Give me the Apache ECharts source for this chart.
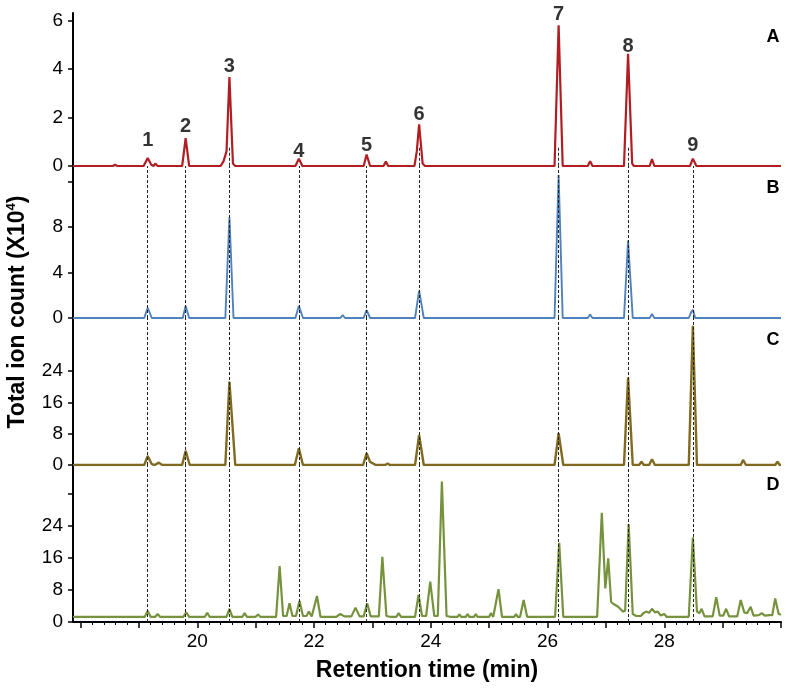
<!DOCTYPE html>
<html><head><meta charset="utf-8">
<script src="https://cdn.jsdelivr.net/npm/echarts@6/dist/echarts.min.js"></script>
<style>html,body{margin:0;padding:0;background:#fff}#c{width:789px;height:690px}</style>
</head><body><div id="c"></div>
<script>
// ---- data (retention time in min, total ion count x10^4) ----
const xMin = 17.87, xMax = 30;
const peakNames = ['1','2','3','4','5','6','7','8','9'];
const peakTimes = [19.15, 19.80, 20.55, 21.74, 22.90, 23.80, 26.19, 27.38, 28.49];
const peakLabelLevelA = [0.62, 1.2, 3.7, 0.2, 0.42, 1.72, 5.82, 4.52, 0.42];
const dashTopA = [null, null, 0.75, null, null, 0.75, 0.75, 0.75, null];

const traceA = [[17.87,0],[18.55,0],[18.59,0.05],[18.63,0],
[19.08,0],[19.15,0.33],[19.21,0.05],[19.25,0],[19.28,0.1],[19.32,0],
[19.74,0],[19.80,1.15],[19.86,0],
[20.40,0],[20.45,0.2],[20.50,0.6],[20.55,3.66],[20.61,0.1],[20.65,0],
[21.68,0],[21.74,0.3],[21.80,0],
[22.05,0],[22.08,0.05],[22.11,0],
[22.85,0],[22.90,0.47],[22.96,0],
[23.19,0],[23.23,0.18],[23.27,0],
[23.72,0],[23.76,0.6],[23.80,1.72],[23.86,0.1],[23.90,0],
[24.09,0],[24.12,0.05],[24.15,0],
[26.12,0],[26.19,5.79],[26.26,0],
[26.69,0],[26.73,0.2],[26.77,0],
[27.31,0],[27.38,4.62],[27.45,0.1],[27.48,0],
[27.75,0],[27.79,0.28],[27.83,0],
[28.44,0],[28.49,0.3],[28.55,0],
[28.87,0],[28.90,0.05],[28.93,0],
[29.58,0],[29.61,0.03],[29.64,0],
[30.0,0]];

const traceB = [[17.87,0],
[19.09,0],[19.15,0.9],[19.22,0],
[19.75,0],[19.80,1.05],[19.86,0],
[20.48,0],[20.55,8.85],[20.62,0],
[21.68,0],[21.74,1.08],[21.81,0],
[22.45,0],[22.49,0.25],[22.53,0],
[22.85,0],[22.90,0.7],[22.96,0],
[23.21,0],[23.24,0.1],[23.27,0],
[23.73,0],[23.80,2.4],[23.88,0],
[25.19,0],[25.22,0.05],[25.25,0],
[26.12,0],[26.19,12.57],[26.26,0],
[26.69,0],[26.73,0.3],[26.77,0],
[27.31,0],[27.38,6.8],[27.46,0],
[27.75,0],[27.79,0.35],[27.83,0],
[28.42,0],[28.46,0.5],[28.49,0.73],[28.53,0],
[30.0,0]];

const traceC = [[17.87,0],
[19.09,0],[19.15,2.3],[19.22,0.2],[19.27,0],[19.34,0.6],[19.40,0],
[19.74,0],[19.80,3.6],[19.87,0],
[20.48,0],[20.55,21.3],[20.58,21],[20.65,0],
[21.67,0],[21.74,4.25],[21.81,0],
[22.48,0],[22.51,0.15],[22.54,0],
[22.84,0],[22.90,3.0],[22.96,0.8],[23.02,0.3],[23.06,0],
[23.22,0],[23.26,0.4],[23.30,0],
[23.73,0],[23.80,7.65],[23.88,0],
[24.74,0],[24.77,0.2],[24.80,0],
[26.12,0],[26.19,8.1],[26.27,0],
[27.31,0],[27.38,22.3],[27.46,0],
[27.57,0],[27.61,0.85],[27.65,0],
[27.74,0],[27.79,1.45],[27.84,0],
[28.42,0],[28.49,35.5],[28.56,0],
[29.01,0],[29.04,0.2],[29.07,0],
[29.31,0],[29.35,1.3],[29.40,0],
[29.90,0],[29.94,0.85],[29.98,0],
[30.0,0]];

const traceD = [[17.87,1.3],
[19.10,1.3],[19.15,2.75],[19.20,1.3],
[19.28,1.3],[19.32,2.0],[19.36,1.3],
[19.76,1.3],[19.81,2.4],[19.86,1.3],
[20.13,1.3],[20.17,2.3],[20.21,1.3],
[20.50,1.3],[20.55,3.25],[20.60,1.3],
[20.77,1.3],[20.81,2.2],[20.85,1.3],
[21.00,1.3],[21.04,1.9],[21.08,1.3],
[21.35,1.3],[21.41,14.0],[21.47,1.5],[21.53,1.5],[21.58,4.7],[21.63,1.5],[21.69,1.5],[21.75,5.25],[21.81,1.5],[21.87,1.5],[21.91,2.6],[21.96,1.4],[21.99,1.4],[22.05,6.5],[22.11,1.3],
[22.38,1.3],[22.45,2.0],[22.52,1.4],[22.64,1.4],[22.71,3.6],[22.78,1.4],[22.85,1.4],[22.91,4.7],[22.97,1.4],[23.11,1.4],[23.17,16.3],[23.24,1.5],[23.30,1.3],
[23.41,1.3],[23.45,2.2],[23.49,1.3],
[23.73,1.3],[23.79,6.75],[23.85,1.5],[23.92,1.5],[23.99,10.1],[24.06,1.5],[24.12,1.5],[24.19,35.1],[24.27,1.5],[24.33,1.3],
[24.46,1.3],[24.49,1.9],[24.52,1.3],[24.60,1.3],[24.63,2.0],[24.66,1.3],[24.74,1.3],[24.77,2.0],[24.80,1.3],
[25.00,1.3],[25.03,2.2],[25.07,1.3],[25.10,1.3],[25.16,8.2],[25.22,1.3],
[25.43,1.3],[25.46,2.0],[25.49,1.3],[25.53,1.3],[25.59,5.5],[25.65,1.3],
[26.13,1.3],[26.20,19.8],[26.27,1.3],
[26.85,1.3],[26.93,27.3],[26.99,8.4],[27.04,15.9],[27.09,5.0],[27.13,4.5],[27.21,3.8],[27.29,2.6],[27.33,2.8],[27.39,24.5],[27.46,2.0],
[27.52,1.5],[27.60,1.5],[27.64,2.2],[27.69,2.6],[27.74,2.3],[27.79,3.3],[27.84,2.4],[27.89,2.6],[27.94,1.6],[28.00,2.0],[28.04,1.3],
[28.42,1.3],[28.49,21.2],[28.56,2.6],[28.60,2.2],[28.64,3.3],[28.69,1.4],
[28.83,1.4],[28.89,6.2],[28.95,1.6],[29.01,1.6],[29.06,3.3],[29.11,1.4],
[29.25,1.4],[29.31,5.5],[29.37,2.4],[29.42,2.2],[29.48,3.8],[29.53,1.6],[29.62,1.7],[29.67,2.2],[29.72,1.6],[29.80,1.7],[29.85,1.7],[29.90,5.9],[29.96,2.0],[30.0,1.8]];

const xMajorTicks = [18,19,20,21,22,23,24,25,26,27,28,29,30];
const xTickLabels = [20,22,24,26,28];
const xMinorTicks = [18.2,18.4,18.6,18.8,19.2,19.4,19.6,19.8,20.2,20.4,20.6,20.8,21.2,21.4,21.6,21.8,22.2,22.4,22.6,22.8,23.2,23.4,23.6,23.8,24.2,24.4,24.6,24.8,25.2,25.4,25.6,25.8,26.2,26.4,26.6,26.8,27.2,27.4,27.6,27.8,28.2,28.4,28.6,28.8,29.2,29.4,29.6,29.8];
const yTicksA = [0,2,4,6],   yLabelsA = [0,2,4,6];
const yTicksB = [0,4,8,12],  yLabelsB = [0,4,8];
const yTicksC = [0,8,16,24], yLabelsC = [0,8,16,24];
const yTicksD = [0,8,16,24,32], yLabelsD = [0,8,16,24];
const panelNames = ['A','B','C','D'];

// ---- chart ----
const FONT = '"Liberation Sans", Arial, sans-serif';
const colors = ['#b01e23', '#4f81bd', '#7f6a20', '#76923c'];
const grids = [
  {left:73, width:708, top:13,  height:153},
  {left:73, width:708, top:166, height:152},
  {left:73, width:708, top:318, height:147},
  {left:73, width:708, top:465, height:157}
];
function yAx(i, max, ticks, labels){
  return {type:'value', gridIndex:i, min:0, max:max,
    axisLine:{show:true, lineStyle:{color:'#000', width:2}},
    axisTick:{show:true, length:5, customValues:ticks, lineStyle:{color:'#000', width:1.5}},
    axisLabel:{show:true, customValues:labels, margin:10, fontSize:19, color:'#000', fontFamily:FONT},
    splitLine:{show:false}};
}
function xHidden(i){ return {type:'value', gridIndex:i, min:xMin, max:xMax, show:false}; }
const dashStyle = {type:[3,2], color:'#222', width:1};
function dashSeries(gi){
  return {type:'line', xAxisIndex:gi, yAxisIndex:gi, data:[], z:5, silent:true,
    markLine:{silent:true, symbol:['none','none'], label:{show:false}, lineStyle:dashStyle,
      emphasis:{disabled:true}, animation:false,
      data: peakTimes.map(t => ({xAxis:t}))}};
}
const dashA = [];
peakTimes.forEach((t,k) => { if (dashTopA[k] !== null) dashA.push([{coord:[t, dashTopA[k]]},{coord:[t,0]}]); });

const traces = [traceA, traceB, traceC, traceD];
const widths = [2.2, 1.9, 2.4, 2.2];
const series = traces.map((d,i) => ({type:'line', xAxisIndex:i, yAxisIndex:i, data:d, showSymbol:false, symbol:'none',
  lineStyle:{color:colors[i], width:widths[i]}, z:3, silent:true, animation:false}));
series.push({type:'line', xAxisIndex:0, yAxisIndex:0, data:[], z:5, silent:true,
  markLine:{silent:true, symbol:['none','none'], label:{show:false}, lineStyle:dashStyle, emphasis:{disabled:true}, animation:false, data:dashA}});
series.push(dashSeries(1), dashSeries(2), dashSeries(3));
series.push({type:'scatter', xAxisIndex:0, yAxisIndex:0, symbolSize:0, silent:true, z:6,
  data: peakTimes.map((t,k) => ({name:peakNames[k], value:[t, peakLabelLevelA[k]]})),
  label:{show:true, position:'top', distance:0, formatter:p => p.name, fontSize:20, fontWeight:'bold', color:'#000', fontFamily:FONT}});

const panelY = [37, 188, 340, 485];
const graphic = panelNames.map((n,k) => ({type:'text', x:773, y:panelY[k], silent:true,
  style:{text:n, fontSize:18, fontWeight:'bold', fontFamily:FONT, fill:'#000', textAlign:'center', textVerticalAlign:'middle'}}));
graphic.push({type:'text', x:427, y:671, silent:true,
  style:{text:'Retention time (min)', fontSize:23, fontWeight:'bold', fontFamily:FONT, fill:'#000', textAlign:'center', textVerticalAlign:'middle'}});
graphic.push({type:'text', x:18, y:312, rotation:Math.PI/2, silent:true,
  style:{text:'{a|Total ion count (X10}{s|4}{a|)}', textAlign:'center', textVerticalAlign:'middle', fill:'#000',
    rich:{a:{fontSize:23, fontWeight:'bold', fontFamily:FONT, fill:'#000', lineHeight:26},
          s:{fontSize:13, fontWeight:'bold', fontFamily:FONT, fill:'#000', verticalAlign:'top', lineHeight:26}}}});

const option = {
  animation:false,
  backgroundColor:'#fff',
  grid: grids,
  xAxis: [xHidden(0), xHidden(1), xHidden(2),
    {type:'value', gridIndex:3, min:xMin, max:xMax, position:'bottom',
      axisLine:{show:true, onZero:false, lineStyle:{color:'#000', width:2}},
      axisTick:{show:true, length:6, customValues:xMajorTicks, lineStyle:{color:'#000', width:1.5}},
      axisLabel:{show:true, customValues:xTickLabels, margin:10, fontSize:19, color:'#000', fontFamily:FONT},
      splitLine:{show:false}},
    {type:'value', gridIndex:3, min:xMin, max:xMax, position:'bottom',
      axisLine:{show:false, onZero:false},
      axisTick:{show:true, length:3, customValues:xMinorTicks, lineStyle:{color:'#000', width:1}},
      axisLabel:{show:false}, splitLine:{show:false}}
  ],
  yAxis: [yAx(0, 6.3, yTicksA, yLabelsA), yAx(1, 13.36, yTicksB, yLabelsB), yAx(2, 37.5, yTicksC, yLabelsC), yAx(3, 39.25, yTicksD, yLabelsD)],
  series: series,
  graphic: graphic
};
const chart = echarts.init(document.getElementById('c'), null, {renderer:'canvas'});
chart.setOption(option);
</script></body></html>
